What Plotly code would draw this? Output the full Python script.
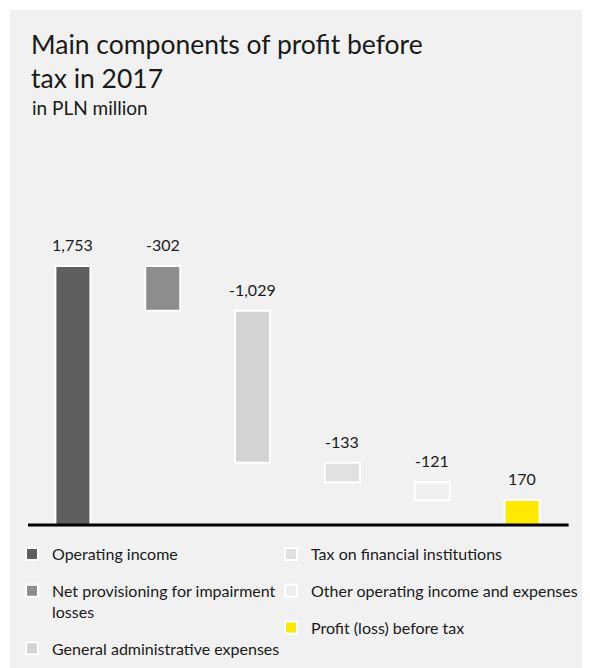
import plotly.graph_objects as go

# ---- data ----
categories = [
    "Operating income",
    "Net provisioning for impairment<br>losses",
    "General administrative expenses",
    "Tax on financial institutions",
    "Other operating income and expenses",
    "Profit (loss) before tax",
]
values = [1753, -302, -1029, -133, -121, 170]
value_labels = ["1,753", "-302", "-1,029", "-133", "-121", "170"]
measures = ["absolute", "relative", "relative", "relative", "relative", "total"]
colors = ["#5f5f5f", "#8d8d8d", "#d4d4d4", "#e1e1e1", "#efefef", "#ffe900"]
legend_ids = ["legend", "legend", "legend", "legend2", "legend2", "legend2"]

W, H = 574, 668
ML, MR, MT, MB = 20, 15, 195, 148
PW, PH = W - ML - MR, H - MT - MB
FONT = "Lato"
TXT = "#1a1a1a"

def px_x(p):
    return (p - ML) / PW

def px_y(p):
    return (H - MB - p) / PH

fig = go.Figure()

running = 0
tops = []
for i, (cat, v, m, c, lg) in enumerate(zip(categories, values, measures, colors, legend_ids)):
    if m == "absolute":
        base, y = 0, v
        running = v
    elif m == "relative":
        base, y = running, v
        running += v
    else:
        base, y = 0, v
    tops.append(max(base, base + y))
    fig.add_trace(go.Bar(
        x=[i], y=[y], base=[base], width=0.39,
        name=cat, legend=lg, legendgroup=f"g{i}",
        marker=dict(color=c, line=dict(color="white", width=2)),
        hoverinfo="skip",
    ))

for i, (t, lab) in enumerate(zip(tops, value_labels)):
    fig.add_annotation(x=i, y=t, text=lab, showarrow=False, yanchor="bottom",
                       yshift=10, font=dict(family=FONT, size=16, color=TXT))

# zero baseline
fig.add_shape(type="line", xref="paper", yref="y", x0=0, x1=1.003, y0=0, y1=0,
              line=dict(color="black", width=3), layer="above")

# gray panel
fig.add_shape(type="rect", xref="paper", yref="paper",
              x0=px_x(2), x1=px_x(W + 5), y0=px_y(H + 5), y1=px_y(2),
              fillcolor="#f1f1f1", line=dict(width=0), layer="below")

# title and subtitle
fig.add_annotation(xref="paper", yref="paper", x=px_x(21), y=px_y(18),
                   xanchor="left", yanchor="top", align="left", showarrow=False,
                   text="Main components of profit before<br>tax in 2017",
                   font=dict(family=FONT, size=26.5, color=TXT))
fig.add_annotation(xref="paper", yref="paper", x=px_x(22), y=px_y(100),
                   xanchor="left", yanchor="middle", showarrow=False,
                   text="in PLN million", font=dict(family=FONT, size=19, color=TXT))

legend_common = dict(
    orientation="v", xref="container", yref="container", yanchor="top", xanchor="left",
    bgcolor="rgba(0,0,0,0)", font=dict(family=FONT, size=16, color=TXT),
    tracegroupgap=13, valign="top", traceorder="grouped",
)

fig.update_layout(
    width=W, height=H,
    margin=dict(l=ML, r=MR, t=MT, b=MB, autoexpand=False),
    paper_bgcolor="white", plot_bgcolor="rgba(0,0,0,0)",
    barmode="overlay",
    xaxis=dict(range=[-0.5, 5.5], visible=False, fixedrange=True),
    yaxis=dict(range=[-20, 2180], visible=False, fixedrange=True),
    legend=dict(x=4 / W, y=1 - 529 / H, **legend_common),
    legend2=dict(x=263 / W, y=1 - 529 / H, **legend_common),
    showlegend=True,
)

fig.write_html("out.html")
